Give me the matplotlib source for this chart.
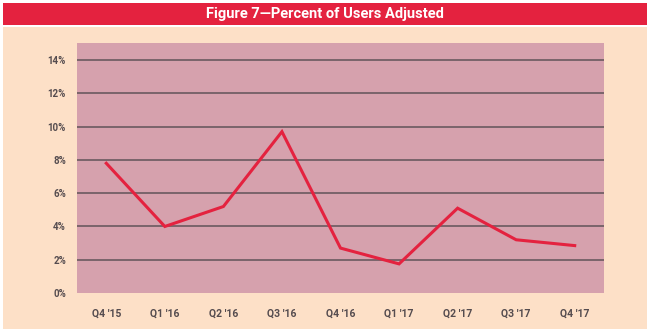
import matplotlib
matplotlib.use("Agg")
from matplotlib import pyplot as plt
from matplotlib.patches import Rectangle


quarters = ["Q4 '15", "Q1 '16", "Q2 '16", "Q3 '16", "Q4 '16",
            "Q1 '17", "Q2 '17", "Q3 '17", "Q4 '17"]
pct_adjusted = [7.8, 4.0, 5.2, 9.7, 2.7, 1.75, 5.1, 3.2, 2.85]
y_ticks = [0, 2, 4, 6, 8, 10, 12, 14]
y_labels = ["0%", "2%", "4%", "6%", "8%", "10%", "12%", "14%"]
title = "Figure 7\u2014Percent of Users Adjusted"

red = "#e4223f"
peach = "#fde0c7"
plot_bg = "#d6a1ad"
grid_col = "#6b5960"
text_col = "#554c4f"

fig = plt.figure(figsize=(6.5, 3.34), dpi=100)

# background boxes
fig.patches.append(Rectangle((3 / 650, 1 - 329 / 334), 644 / 650, 301.7 / 334,
                             transform=fig.transFigure, facecolor=peach,
                             edgecolor="none", zorder=-5))
fig.patches.append(Rectangle((3 / 650, 1 - 24.5 / 334), 644 / 650, 21.8 / 334,
                             transform=fig.transFigure, facecolor=red,
                             edgecolor="none", zorder=-5))
fig.text(0.5, 1 - 14 / 334, title, color="white", ha="center", va="center",
         fontsize=10.5, fontweight="bold", family=["Roboto", "DejaVu Sans"])

ax = fig.add_axes([77 / 650, 41 / 334, 527 / 650, 250.3 / 334])
ax.set_zorder(2)
ax.set_facecolor(plot_bg)

x = list(range(len(quarters)))
for y in y_ticks[1:]:
    ax.axhline(y, color=grid_col, lw=1.2, zorder=1)
ax.plot(x, pct_adjusted, color=red, lw=2.2, zorder=3,
        solid_joinstyle="miter")

ax.set_xlim(-0.5, 8.5)
ax.set_ylim(0, 15.05)
ax.set_xticks(x)
ax.set_xticklabels(quarters)
ax.set_yticks(y_ticks)
ax.set_yticklabels(y_labels)
for s in ax.spines.values():
    s.set_visible(False)
ax.tick_params(axis="y", length=0, pad=8, labelsize=7, labelcolor=text_col)
ax.tick_params(axis="x", length=0, pad=11, labelsize=7.5, labelcolor=text_col)
for lab in ax.get_xticklabels() + ax.get_yticklabels():
    lab.set_fontweight("bold")
    lab.set_family(["Roboto", "DejaVu Sans"])

plt.savefig("out.png", dpi=100)
